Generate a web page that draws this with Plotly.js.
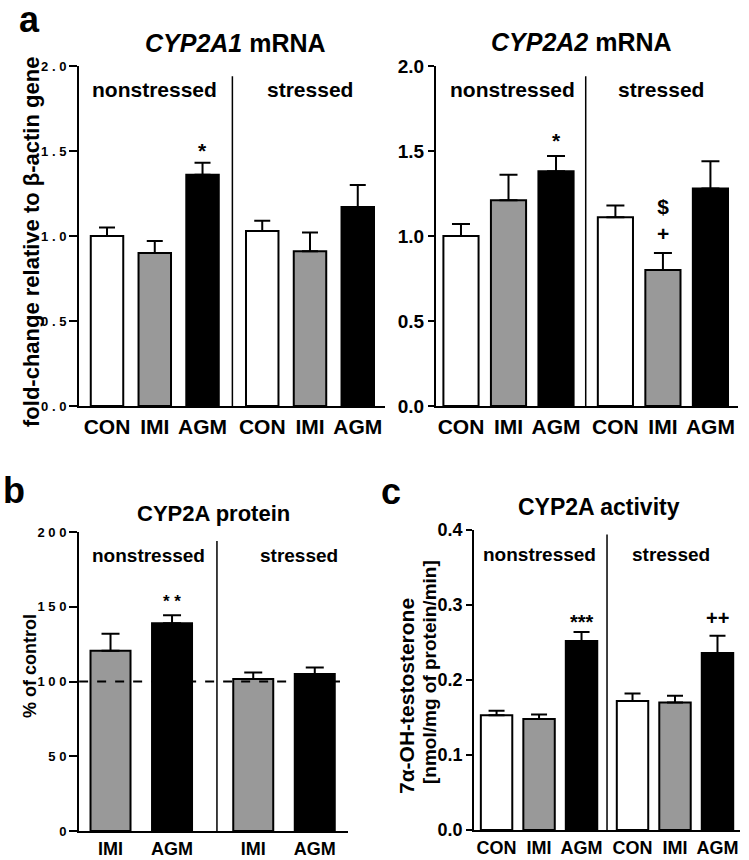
<!DOCTYPE html>
<html>
<head>
<meta charset="utf-8">
<script src="https://cdn.plot.ly/plotly-3.0.1.min.js"></script>
<style>
  body { margin: 0; background: #fff; }
  #fig { width: 749px; height: 860px; }
</style>
</head>
<body>
<div id="fig"></div>
<script>
// Data (mean and upper SEM)
const groupNames = ['nonstressed', 'stressed'];

const mrnaLabels = ['CON', 'IMI', 'AGM', 'CON', 'IMI', 'AGM'];
const cyp2a1Mean = [1.00, 0.90, 1.36, 1.03, 0.91, 1.17];
const cyp2a1Sem = [0.05, 0.07, 0.07, 0.06, 0.11, 0.13];
const cyp2a2Mean = [1.00, 1.21, 1.38, 1.11, 0.80, 1.28];
const cyp2a2Sem = [0.07, 0.15, 0.09, 0.07, 0.10, 0.16];

const proteinLabels = ['IMI', 'AGM', 'IMI', 'AGM'];
const proteinMean = [120.5, 139, 101.7, 105];
const proteinSem = [11.5, 5.4, 4.3, 4.4];
const proteinControl = 100;

const activityLabels = ['CON', 'IMI', 'AGM', 'CON', 'IMI', 'AGM'];
const activityMean = [0.153, 0.148, 0.252, 0.172, 0.170, 0.236];
const activitySem = [0.006, 0.006, 0.012, 0.010, 0.009, 0.023];

// significance marks: bar index and text
const cyp2a1Sig = [[2, '*']];
const cyp2a2Sig = [[2, '*'], [4, '$<br>+']];
const proteinSig = [[1, '* *']];
const activitySig = [[2, '***'], [5, '++']];

const FONT = 'Liberation Sans, Arial, sans-serif';
const colorsFor = function(labels) {
    return labels.map(function(l) {
        if (l === 'CON') return '#ffffff';
        if (l === 'IMI') return '#999999';
        return '#000000';
    });
};

// x positions with a wider gap between the two groups
function xPos(count, split, gap) {
    return Array.from({length: count}, function(_, i) { return i + (i >= split ? gap : 0); });
}

function spaced(v, digits) {
    return v.toFixed(digits).split('').join(' ');
}

const traces = [];
const annotations = [];
const shapes = [];

function addPanel(opts) {
    const x = xPos(opts.labels.length, opts.split, opts.gap);
    traces.push({
        type: 'bar',
        x: x,
        y: opts.mean,
        width: opts.barWidth,
        xaxis: opts.xa,
        yaxis: opts.ya,
        marker: {color: colorsFor(opts.labels), line: {color: '#000', width: 2}},
        error_y: {
            type: 'data', symmetric: false,
            array: opts.sem, arrayminus: opts.sem.map(function() { return 0; }),
            color: '#000', thickness: 2, width: opts.capWidth
        },
        hoverinfo: 'skip',
        showlegend: false
    });
    // divider between groups
    const mid = (x[opts.split - 1] + x[opts.split]) / 2 + (opts.divShift || 0);
    shapes.push({
        type: 'line', xref: opts.xa, yref: opts.ya,
        x0: mid, x1: mid, y0: 0, y1: opts.yMax * opts.divTop,
        line: {color: '#000', width: 1.5}
    });
    // group labels
    const gx = [(x[0] + x[opts.split - 1]) / 2 + (opts.gShift ? opts.gShift[0] : 0),
                (x[opts.split] + x[x.length - 1]) / 2 + (opts.gShift ? opts.gShift[1] : 0)];
    groupNames.forEach(function(g, k) {
        annotations.push({
            xref: opts.xa, yref: opts.ya, x: gx[k], y: opts.yMax * opts.gY,
            xanchor: 'center', yanchor: 'middle',
            text: g, showarrow: false,
            font: {family: FONT, size: opts.gSize, color: '#000', weight: 700}
        });
    });
    opts.sig.forEach(function(s, k) {
        const i = s[0];
        annotations.push({
            xref: opts.xa, yref: opts.ya, x: x[i], y: opts.mean[i] + opts.sem[i],
            xanchor: 'center', text: s[1], showarrow: false, yanchor: 'bottom', yshift: opts.sigShift[k],
            font: {family: FONT, size: opts.sigSize, color: '#000', weight: 700}
        });
    });
    return x;
}

const xa1 = addPanel({labels: mrnaLabels, mean: cyp2a1Mean, sem: cyp2a1Sem, split: 3, gap: 0.25,
    barWidth: 0.68, capWidth: 8, xa: 'x', ya: 'y', yMax: 2, divTop: 0.97, gY: 0.93, gSize: 21,
    sig: cyp2a1Sig, sigSize: 21, sigShift: [-1]});
const xa2 = addPanel({labels: mrnaLabels, mean: cyp2a2Mean, sem: cyp2a2Sem, split: 3, gap: 0.25,
    barWidth: 0.74, capWidth: 9, xa: 'x2', ya: 'y2', yMax: 2, divTop: 0.97, gY: 0.93, gSize: 21,
    gShift: [0.08, -0.03], sig: cyp2a2Sig, sigSize: 21, sigShift: [2, 6]});
const xb = addPanel({labels: proteinLabels, mean: proteinMean, sem: proteinSem, split: 2, gap: 0.32,
    barWidth: 0.65, capWidth: 9, xa: 'x3', ya: 'y3', yMax: 200, divTop: 0.97, gY: 0.92, gSize: 19,
    divShift: 0.07, gShift: [0.12, 0.24], sig: proteinSig, sigSize: 17, sigShift: [2]});
const xc = addPanel({labels: activityLabels, mean: activityMean, sem: activitySem, split: 3, gap: 0.2,
    barWidth: 0.74, capWidth: 8, xa: 'x4', ya: 'y4', yMax: 0.4, divTop: 0.985, gY: 0.92, gSize: 19,
    gShift: [0.01, -0.1], sig: activitySig, sigSize: 20, sigShift: [-3, 5]});

// control reference line in the protein panel
shapes.push({
    type: 'line', xref: 'x3', yref: 'y3', x0: -0.51, x1: 3.73, y0: proteinControl, y1: proteinControl,
    line: {color: '#000', width: 2, dash: 'dash'}
});

function xAxis(domain, range, tickvals, ticktext, size, anchor, len) {
    return {
        domain: domain, range: range, anchor: anchor,
        showline: true, linecolor: '#000', linewidth: 2,
        showgrid: false, zeroline: false, fixedrange: true,
        tickmode: 'array', tickvals: tickvals, ticktext: ticktext,
        ticks: 'outside', ticklen: len, tickcolor: 'rgba(0,0,0,0)',
        tickfont: {family: FONT, size: size, color: '#000', weight: 700}
    };
}
function yAxis(domain, range, tickvals, ticktext, size, anchor, len) {
    return {
        domain: domain, range: range, anchor: anchor,
        showline: true, linecolor: '#000', linewidth: 2,
        showgrid: false, zeroline: false, fixedrange: true,
        tickmode: 'array', tickvals: tickvals, ticktext: ticktext,
        ticks: 'outside', ticklen: len, tickwidth: 2, tickcolor: '#000',
        tickfont: {family: FONT, size: size, color: '#000', weight: 700}
    };
}

const aTicks = [0, 0.5, 1, 1.5, 2];
const bTicks = [0, 50, 100, 150, 200];
const cTicks = [0, 0.1, 0.2, 0.3, 0.4];

function paperText(x, y, text, size, angle) {
    return {
        xref: 'paper', yref: 'paper', x: x / 749, y: 1 - y / 860,
        xanchor: 'center', yanchor: 'middle', textangle: angle || 0,
        text: text, showarrow: false,
        font: {family: FONT, size: size, color: '#000', weight: 700}
    };
}

const layout = {
    width: 749, height: 860, autosize: false,
    margin: {l: 0, r: 0, t: 0, b: 0},
    paper_bgcolor: '#fff', plot_bgcolor: '#fff',
    showlegend: false, bargap: 0,
    xaxis: xAxis([0.1055, 0.514], [-0.586, 5.82], xa1, mrnaLabels, 21, 'y', 1),
    yaxis: yAxis([0.5279, 0.9233], [0, 2], aTicks, aTicks.map(function(v) { return spaced(v, 1); }), 13, 'x', 8),
    xaxis2: xAxis([0.5821, 0.9853], [-0.526, 5.83], xa2, mrnaLabels, 21, 'y2', 1),
    yaxis2: yAxis([0.5279, 0.9233], [0, 2], aTicks, aTicks.map(function(v) { return v.toFixed(1); }), 19, 'x2', 6),
    xaxis3: xAxis([0.1055, 0.4646], [-0.512, 3.86], xb, proteinLabels, 18, 'y3', 0),
    yaxis3: yAxis([0.0337, 0.3814], [0, 200], bTicks, bTicks.map(function(v) { return spaced(v, 0); }), 13, 'x3', 8),
    xaxis4: xAxis([0.6329, 0.988], [-0.53, 5.73], xc, activityLabels, 18, 'y4', 0),
    yaxis4: yAxis([0.0349, 0.3837], [0, 0.4], cTicks, cTicks.map(function(v) { return v.toFixed(1); }), 18, 'x4', 6),
    shapes: shapes,
    annotations: annotations.concat([
        paperText(235, 43, '<i>CYP2A1</i> mRNA', 25),
        paperText(581, 42, '<i>CYP2A2</i> mRNA', 25),
        paperText(213, 513, 'CYP2A protein', 22),
        paperText(599, 507, 'CYP2A activity', 23),
        paperText(31, 242, 'fold-change relative to β-actin gene', 22, -90),
        paperText(30, 666, '% of control', 18, -90),
        paperText(406, 696, '7α-OH-testosterone', 21, -90),
        paperText(429, 672, '[nmol/mg of protein/min]', 19, -90),
        paperText(29, 19, 'a', 36),
        paperText(14, 490, 'b', 36),
        paperText(391, 492, 'c', 36)
    ])
};

Plotly.newPlot('fig', traces, layout, {displayModeBar: false, staticPlot: true});
</script>
</body>
</html>
